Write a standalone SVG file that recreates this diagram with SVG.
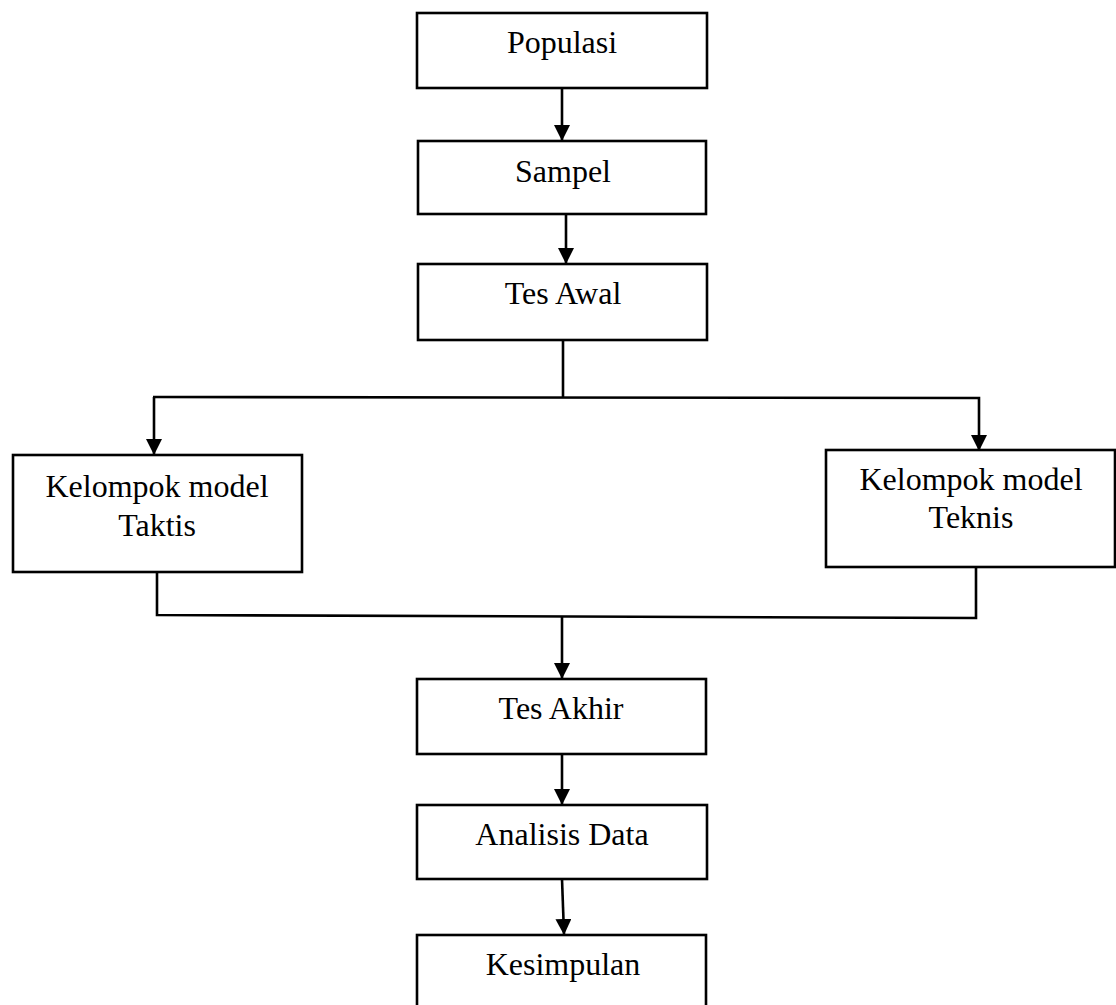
<svg xmlns="http://www.w3.org/2000/svg" width="1116" height="1005" viewBox="0 0 1116 1005">
<style>
.box{fill:#fff;stroke:#000;stroke-width:2.6}
.lbl{font-family:"Liberation Serif","Times New Roman",serif;font-size:32px;fill:#000;text-anchor:middle}
.con{fill:none;stroke:#000;stroke-width:2.6}
</style>
<defs>
<marker id="ah" markerUnits="userSpaceOnUse" markerWidth="16" markerHeight="16" viewBox="0 0 16 16" refX="15" refY="8" orient="auto">
<path d="M0,0 L16,8 L0,16 Z" fill="#000"/>
</marker>
</defs>
<rect width="1116" height="1005" fill="#fff"/>
<g id="connectors">
<line class="con" x1="562" y1="88" x2="562" y2="140" marker-end="url(#ah)"/>
<line class="con" x1="566" y1="214" x2="566" y2="263" marker-end="url(#ah)"/>
<line class="con" x1="563" y1="340" x2="563" y2="397"/>
<polyline class="con" points="153,397 979,398 979,450" marker-end="url(#ah)"/>
<line class="con" x1="154" y1="397" x2="154" y2="454" marker-end="url(#ah)"/>
<polyline class="con" points="157,572 157,615 976,618 976,567"/>
<line class="con" x1="562" y1="616" x2="562" y2="678" marker-end="url(#ah)"/>
<line class="con" x1="562" y1="754" x2="562" y2="804" marker-end="url(#ah)"/>
<line class="con" x1="562" y1="879" x2="564" y2="934" marker-end="url(#ah)"/>
</g>
<g id="populasi"><rect class="box" x="417" y="13" width="290" height="75"/><text class="lbl" x="562" y="53">Populasi</text></g>
<g id="sampel"><rect class="box" x="418" y="141" width="288" height="73"/><text class="lbl" x="563" y="182">Sampel</text></g>
<g id="tes-awal"><rect class="box" x="418" y="264" width="289" height="76"/><text class="lbl" x="563" y="304">Tes Awal</text></g>
<g id="taktis"><rect class="box" x="13" y="455" width="289" height="117"/><text class="lbl" x="157" y="497">Kelompok model</text><text class="lbl" x="157" y="536">Taktis</text></g>
<g id="teknis"><rect class="box" x="826" y="450" width="289" height="117"/><text class="lbl" x="971" y="490">Kelompok model</text><text class="lbl" x="971" y="528">Teknis</text></g>
<g id="tes-akhir"><rect class="box" x="417" y="679" width="289" height="75"/><text class="lbl" x="561" y="719">Tes Akhir</text></g>
<g id="analisis"><rect class="box" x="417" y="805" width="290" height="74"/><text class="lbl" x="562" y="845">Analisis Data</text></g>
<g id="kesimpulan"><rect class="box" x="417" y="935" width="289" height="90"/><text class="lbl" x="563" y="975">Kesimpulan</text></g>
</svg>
